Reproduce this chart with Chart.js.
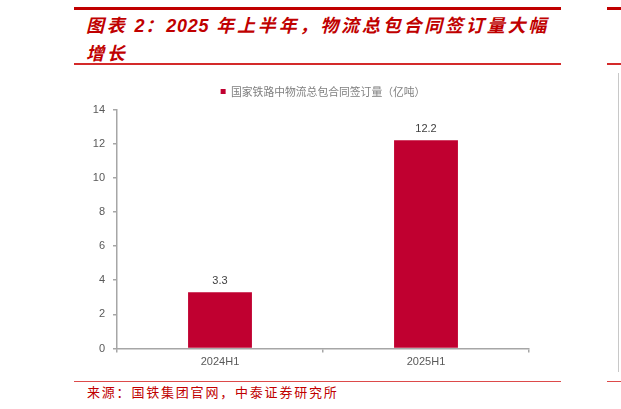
<!DOCTYPE html>
<html>
<head>
<meta charset="utf-8">
<script src="https://cdn.jsdelivr.net/npm/chart.js@4.4.1/dist/chart.umd.min.js"></script>
<style>
  html,body{margin:0;padding:0;background:#fff;}
  #wrap{position:relative;width:621px;height:409px;overflow:hidden;background:#fff;}
  .hl{position:absolute;background:#c00000;}
  .title{position:absolute;left:86px;font-family:"Noto Sans CJK SC",sans-serif;font-weight:bold;font-style:italic;font-size:18px;letter-spacing:2.8px;line-height:18px;height:18px;color:#c00000;white-space:nowrap;}
  .title .n{font-family:"Liberation Sans",Arial,sans-serif;letter-spacing:0.8px;}
  #source{position:absolute;left:87px;top:384px;font-family:"Noto Sans CJK SC",sans-serif;font-size:13px;letter-spacing:1.8px;line-height:16px;color:#c00000;white-space:nowrap;}
  canvas{position:absolute;left:0;top:0;}
</style>
</head>
<body>
<div id="wrap">
  <div class="hl" style="left:74px;top:7px;width:487px;height:3px;"></div>
  <div class="title" style="top:15px;">图表 <span class="n">2</span>：<span class="n">2025</span> 年上半年，物流总包合同签订量大幅</div>
  <div class="title" style="top:43px;">增长</div>
  <div class="hl" style="left:74px;top:63px;width:487px;height:1.5px;background:#d42a2a;"></div>
  <div class="hl" style="left:74px;top:380.5px;width:487px;height:1.5px;background:#dd4a4a;"></div>
  <div id="source">来源：国铁集团官网，中泰证券研究所</div>
  <!-- neighbouring panel edge -->
  <div class="hl" style="left:607px;top:7px;width:14px;height:3px;"></div>
  <div class="hl" style="left:607px;top:63px;width:14px;height:1.5px;background:#d42a2a;"></div>
  <div class="hl" style="left:607px;top:380.5px;width:14px;height:1.5px;background:#dd4a4a;"></div>
  <div style="position:absolute;left:617.5px;top:73px;width:1px;height:299px;background:#c8c8c8;"></div>
  <canvas id="c" width="621" height="409"></canvas>
</div>
<script>
const categories = ["2024H1", "2025H1"];
const seriesLabel = "国家铁路中物流总包合同签订量（亿吨）";
const seriesValues = [3.3, 12.2];
const yTicks = [0, 2, 4, 6, 8, 10, 12, 14];

const legendHeight = {
  id: 'legendHeight',
  beforeInit(chart) {
    const fit = chart.legend.fit;
    chart.legend.fit = function () {
      fit.bind(chart.legend)();
      this.height = 29.5;
    };
  },
  afterLayout(chart) {
    // centre the legend over the plotting area
    const lg = chart.legend;
    const shift = chart.chartArea.left;
    lg.left += shift;
  }
};

const valueLabels = {
  id: 'valueLabels',
  afterDatasetsDraw(chart) {
    const ctx = chart.ctx;
    ctx.save();
    ctx.font = '11px "Liberation Sans", Arial, sans-serif';
    ctx.fillStyle = '#404040';
    ctx.textAlign = 'center';
    ctx.textBaseline = 'middle';
    chart.data.datasets.forEach((ds, i) => {
      chart.getDatasetMeta(i).data.forEach((bar, j) => {
        ctx.fillText(ds.data[j].toFixed(1), bar.x, bar.y - 11.5);
      });
    });
    ctx.restore();
  }
};

new Chart(document.getElementById('c'), {
  type: 'bar',
  data: {
    labels: categories,
    datasets: [{
      label: seriesLabel,
      data: seriesValues,
      backgroundColor: '#c00030',
      borderWidth: 0,
      barPercentage: 0.62,
      categoryPercentage: 0.5
    }]
  },
  options: {
    responsive: false,
    animation: false,
    devicePixelRatio: 1,
    layout: { padding: { top: 80, left: 0, right: 92, bottom: 0 } },
    plugins: {
      legend: {
        display: true,
        position: 'top',
        labels: {
          boxWidth: 5,
          boxHeight: 5,
          padding: 6,
          color: '#7f7f7f',
          font: { family: '"Noto Sans CJK SC", sans-serif', size: 10.8 }
        }
      },
      tooltip: { enabled: false }
    },
    scales: {
      x: {
        afterFit(scale) { scale.height = 60.5; },
        border: { color: '#a6a6a6', width: 1.5 },
        grid: { display: true, drawOnChartArea: false, drawTicks: true, tickLength: 4, color: '#a6a6a6', lineWidth: 1.5 },
        ticks: { color: '#595959', padding: 3, font: { family: '"Liberation Sans", Arial, sans-serif', size: 11 } }
      },
      y: {
        min: 0,
        max: 14,
        afterFit(scale) { scale.width = 117; },
        afterBuildTicks(scale) { scale.ticks = yTicks.map(v => ({ value: v })); },
        border: { color: '#a6a6a6', width: 1.5 },
        grid: { display: true, drawOnChartArea: false, drawTicks: true, tickLength: 4, color: '#a6a6a6', lineWidth: 1.5 },
        ticks: { color: '#595959', padding: 8, font: { family: '"Liberation Sans", Arial, sans-serif', size: 11 } }
      }
    }
  },
  plugins: [legendHeight, valueLabels]
});
</script>
</body>
</html>
